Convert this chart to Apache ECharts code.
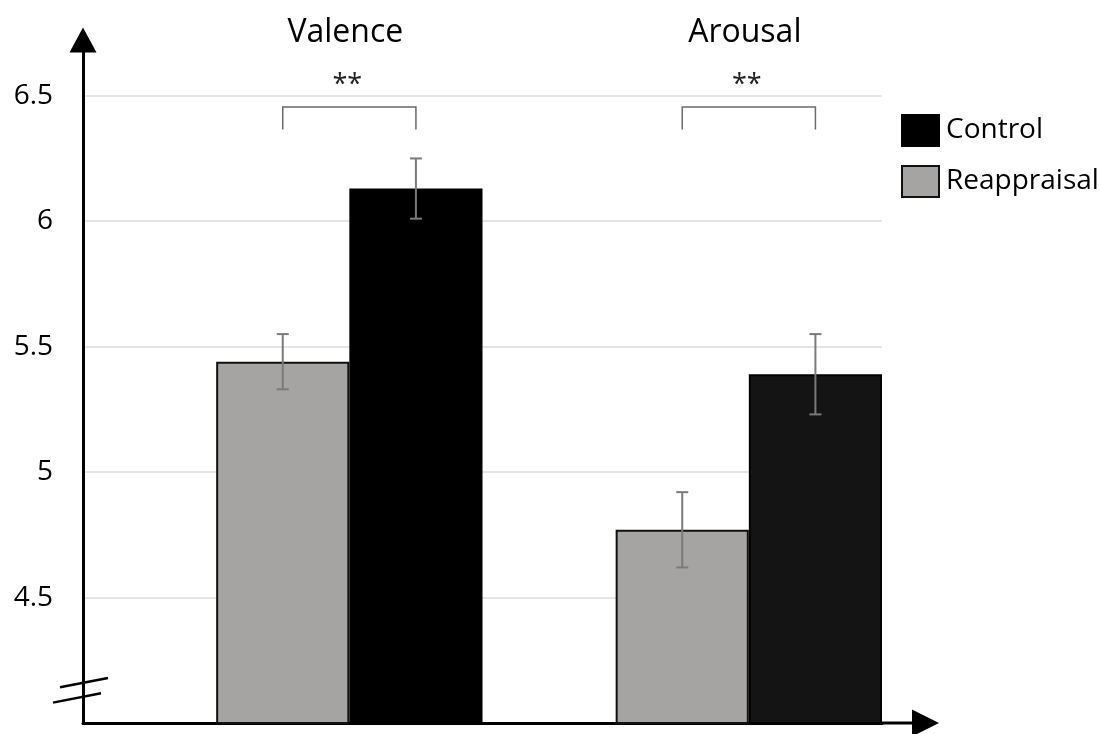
<!DOCTYPE html>
<html>
<head>
<meta charset="utf-8">
<script src="https://cdn.jsdelivr.net/npm/echarts@6/dist/echarts.min.js"></script>
<style>
  html, body { margin: 0; padding: 0; background: #fff; }
  #chart { width: 1100px; height: 734px; }
</style>
</head>
<body>
<div id="chart"></div>
<script>
// Ratings by condition (mean ± standard error)
const categories = ['Valence', 'Arousal'];
const reappraisalMean = [5.44, 4.77];
const reappraisalSE = [0.11, 0.15];
const controlMean = [6.13, 5.39];
const controlSE = [0.12, 0.16];
const significance = ['**', '**'];

// Value axis range and tick step
const yMin = 4;
const yMax = 6.75;
const yStep = 0.5;

// Vertical levels (in axis units) for annotations above the bars
const bracketTop = 6.455;
const bracketLeg = 6.365;
const starLevel = 6.54;
const titleLevel = 6.75;
// Axis-break marks on the value axis
const breakLevels = [4.161, 4.100];

// Styles
const FONT = 'Open Sans';
const controlFill = ['#000000', '#141414'];
const reappraisalFill = '#a5a4a2';
const GRID_LEFT = 83;

const chart = echarts.init(document.getElementById('chart'));

// Error bars: slot 0 sits at the band centre (reappraisal), slot 1 one third further (control)
function errorBars(slot) {
  return function (params, api) {
    const i = api.value(0);
    const m = api.value(1);
    const se = api.value(2);
    const band = api.size([1, 0])[0];
    const x = api.coord([i, m])[0] + slot * band / 3;
    const yTop = api.coord([i, m + se])[1];
    const yBot = api.coord([i, m - se])[1];
    const cap = 6;
    const style = { stroke: '#7a7a7a', lineWidth: 2 };
    return {
      type: 'group',
      children: [
        { type: 'line', shape: { x1: x, y1: yTop, x2: x, y2: yBot }, style },
        { type: 'line', shape: { x1: x - cap, y1: yTop, x2: x + cap, y2: yTop }, style },
        { type: 'line', shape: { x1: x - cap, y1: yBot, x2: x + cap, y2: yBot }, style }
      ]
    };
  };
}

// Group titles, significance brackets and stars
function annotations(params, api) {
  const i = params.dataIndex;
  const band = api.size([1, 0])[0];
  const xl = api.coord([i, yMin])[0];
  const xr = xl + band / 3;
  const xm = xl + band / 6;
  const yTop = api.coord([i, bracketTop])[1];
  const yLeg = api.coord([i, bracketLeg])[1];
  const yStar = api.coord([i, starLevel])[1];
  const yTitle = api.coord([i, titleLevel])[1];
  return {
    type: 'group',
    children: [
      {
        type: 'polyline',
        shape: { points: [[xl, yLeg], [xl, yTop], [xr, yTop], [xr, yLeg]] },
        style: { stroke: '#6a6a6a', lineWidth: 1.5, fill: null }
      },
      {
        type: 'text', x: xm - 2, y: yStar,
        style: { text: significance[i], fontFamily: FONT, fontSize: 27, fill: '#222',
                 align: 'center', verticalAlign: 'middle' }
      },
      {
        type: 'text', x: xm - 4, y: yTitle,
        style: { text: categories[i], fontFamily: FONT, fontSize: 32, fill: '#000',
                 align: 'center', verticalAlign: 'middle' }
      }
    ]
  };
}

const option = {
  backgroundColor: '#ffffff',
  animation: false,
  grid: { left: GRID_LEFT, right: 218, top: 33, bottom: 11 },
  legend: {
    data: ['Control', 'Reappraisal'],
    orient: 'vertical',
    left: 896,
    top: 109,
    icon: 'rect',
    itemWidth: 37,
    itemHeight: 31,
    itemGap: 18,
    selectedMode: false,
    textStyle: { fontFamily: FONT, fontSize: 28, color: '#000', padding: [0, 0, 0, 2] }
  },
  xAxis: {
    type: 'category',
    data: categories,
    axisLine: {
      show: true,
      lineStyle: { color: '#000', width: 3 },
      symbol: ['none', 'path://M13.5 0 L27 27 L15 27 L15 58 L12 58 L12 27 L0 27 Z'],
      symbolSize: [27, 58],
      symbolOffset: [0, 28]
    },
    axisTick: { show: false },
    axisLabel: { show: false },
    splitLine: { show: false }
  },
  yAxis: {
    type: 'value',
    min: yMin,
    max: yMax,
    interval: yStep,
    axisLine: {
      show: true,
      lineStyle: { color: '#000', width: 3 },
      symbol: ['none', 'triangle'],
      symbolSize: [27, 25],
      symbolOffset: [0, -7]
    },
    axisTick: { show: false },
    axisLabel: {
      fontFamily: FONT, fontSize: 28, color: '#000', margin: 30,
      showMinLabel: false, showMaxLabel: false
    },
    splitLine: {
      show: true,
      showMinLine: false,
      showMaxLine: false,
      lineStyle: { color: '#e4e4e4', width: 2 }
    }
  },
  series: [
    {
      // empty leading slot so each pair sits in the right two thirds of its band
      name: 'slot',
      type: 'bar',
      data: categories.map(() => '-'),
      barGap: '0%',
      barCategoryGap: '0%',
      silent: true
    },
    {
      name: 'Reappraisal',
      type: 'bar',
      data: reappraisalMean,
      itemStyle: { color: reappraisalFill, borderColor: '#111', borderWidth: 2 }
    },
    {
      name: 'Control',
      type: 'bar',
      data: controlMean.map((v, i) => ({ value: v, itemStyle: { color: controlFill[i] } })),
      itemStyle: { color: controlFill[0], borderColor: '#000', borderWidth: 2 }
    },
    {
      type: 'custom',
      renderItem: errorBars(0),
      data: categories.map((c, i) => [i, reappraisalMean[i], reappraisalSE[i]]),
      z: 5, silent: true
    },
    {
      type: 'custom',
      renderItem: errorBars(1),
      data: categories.map((c, i) => [i, controlMean[i], controlSE[i]]),
      z: 5, silent: true
    },
    {
      type: 'custom',
      renderItem: annotations,
      data: categories.map((c, i) => [i, bracketTop]),
      clip: false,
      z: 5, silent: true
    }
  ]
};

chart.setOption(option);

// Break marks across the value axis near its origin
const breakMarks = breakLevels.map((v, k) => {
  const y = chart.convertToPixel({ yAxisIndex: 0 }, v);
  const dx0 = k === 0 ? -23 : -30;
  const dx1 = k === 0 ? 25 : 18;
  return {
    type: 'line',
    shape: { x1: GRID_LEFT + dx0, y1: y + 4.7, x2: GRID_LEFT + dx1, y2: y - 4.7 },
    style: { stroke: '#000', lineWidth: 2.5 },
    z: 20
  };
});
chart.setOption({ graphic: breakMarks });
</script>
</body>
</html>
